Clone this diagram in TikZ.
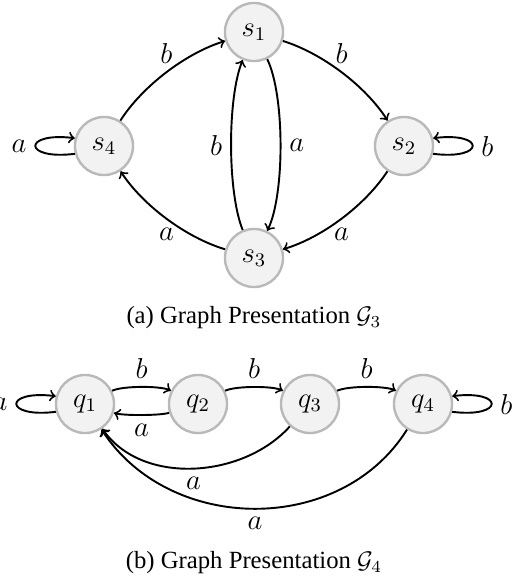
\documentclass[tikz,border=0pt]{standalone}
\usepackage{fontspec}
\setmainfont{Liberation Serif}
\usetikzlibrary{arrows}
\begin{document}
\begin{tikzpicture}[x=0.4167pt,y=0.4167pt,
  state/.style={circle,draw=gray!55,fill=gray!10,line width=1pt,minimum size=24.2pt,inner sep=0pt,font=\fontsize{11.5}{13}\selectfont},
  edgeline/.style={->,>=to,thick},
  lab/.style={font=\fontsize{11.5}{13}\selectfont},
  caption/.style={font=\fontsize{10.3}{12}\selectfont}]
\useasboundingbox (0,0) rectangle (526,-581);
% graph G3
\node[state] (s1) at (254,-32) {$s_1$};
\node[state] (s2) at (404,-146) {$s_2$};
\node[state] (s3) at (254,-258) {$s_3$};
\node[state] (s4) at (104,-146) {$s_4$};
\draw[edgeline] (s4) to[bend left=20,looseness=0.8] node[lab,above] {$b$} (s1);
\draw[edgeline] (s1) to[bend left=20,looseness=0.8] node[lab,above] {$b$} (s2);
\draw[edgeline] (s2) to[bend left=20,looseness=0.8] node[lab,below] {$a$} (s3);
\draw[edgeline] (s3) to[bend left=20,looseness=0.8] node[lab,below] {$a$} (s4);
\draw[edgeline] (s3) to[bend left=22,looseness=0.62] node[lab,left] {$b$} (s1);
\draw[edgeline] (s1) to[bend left=26,looseness=0.6] node[lab,right] {$a$} (s3);
\draw[edgeline] (s4.195) to[out=187,in=173,min distance=22pt] node[lab,left] {$a$} (s4.165);
\draw[edgeline] (s2.-15) to[out=-7,in=7,min distance=22pt] node[lab,right] {$b$} (s2.15);
\node[caption] (capa) at (254,-318) {(a) Graph Presentation $\mathcal{G}_3$};
% graph G4
\node[state] (q1) at (85,-404) {$q_1$};
\node[state] (q2) at (198,-404) {$q_2$};
\node[state] (q3) at (310,-404) {$q_3$};
\node[state] (q4) at (423,-404) {$q_4$};
\draw[edgeline] (q1) to[out=26,in=154,looseness=0.5] node[lab,above] {$b$} (q2);
\draw[edgeline] (q2) to[out=197,in=-17,looseness=0.45] node[lab,below] {$a$} (q1);
\draw[edgeline] (q2) to[out=26,in=154,looseness=0.5] node[lab,above] {$b$} (q3);
\draw[edgeline] (q3) to[out=26,in=154,looseness=0.5] node[lab,above] {$b$} (q4);
\draw[edgeline] (q3) to[out=228,in=305,looseness=0.95] node[lab,below] {$a$} (q1);
\draw[edgeline] (q4) to[out=238,in=303,looseness=1.05] node[lab,below] {$a$} (q1);
\draw[edgeline] (q1.195) to[out=187,in=173,min distance=22pt] node[lab,left] {$a$} (q1.165);
\draw[edgeline] (q4.-15) to[out=-7,in=7,min distance=22pt] node[lab,right] {$b$} (q4.15);
\node[caption] (capb) at (254,-563) {(b) Graph Presentation $\mathcal{G}_4$};
\end{tikzpicture}
\end{document}
